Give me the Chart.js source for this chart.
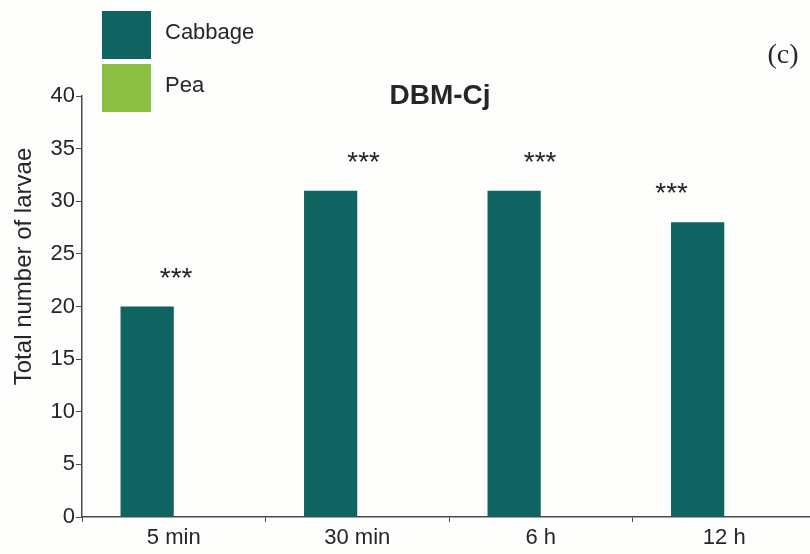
<!DOCTYPE html>
<html>
<head>
<meta charset="utf-8">
<script src="https://cdn.jsdelivr.net/npm/chart.js@4"></script>
<style>
  html, body { margin: 0; padding: 0; background: #fdfdfc; overflow: hidden; }
  #wrap { width: 816px; height: 554px; }
</style>
</head>
<body>
<div id="wrap"><canvas id="chart" width="816" height="554"></canvas></div>
<script>
// data
const categories = ['5 min', '30 min', '6 h', '12 h'];
const cabbage = [20, 31, 31, 28];
const pea = [0, 0, 0, 0];
const marks = ['***', '***', '***', '***'];
const yTicks = [0, 5, 10, 15, 20, 25, 30, 35, 40];

const FONT = '"Liberation Sans", Arial, sans-serif';
const INK = '#262626';
const AXIS = '#4a4a4a';

// legend, title, axis title, panel letter and significance stars
const extras = {
    id: 'extras',
    afterDatasetsDraw(chart) {
        const ctx = chart.ctx;
        const meta = chart.getDatasetMeta(0);
        const y = chart.scales.y;
        const area = chart.chartArea;
        ctx.save();

        // stars above bars (they sit a little off the bar centre in the original)
        ctx.fillStyle = INK;
        ctx.font = '28px ' + FONT;
        ctx.textAlign = 'center';
        ctx.textBaseline = 'alphabetic';
        const shift = [29, 33, 26, -26];
        meta.data.forEach((bar, i) => {
            const top = y.getPixelForValue(cabbage[i]);
            ctx.fillText(marks[i], bar.x + shift[i], top - 20);
        });

        // title
        ctx.textBaseline = 'middle';
        ctx.font = 'bold 28px ' + FONT;
        ctx.fillText('DBM-Cj', 440, 96);

        // (c)
        ctx.font = '28px "Liberation Serif", "Times New Roman", serif';
        ctx.fillText('(c)', 783, 56);

        // y axis title
        ctx.save();
        ctx.translate(24, (area.top + area.bottom) / 2 - 40);
        ctx.rotate(-Math.PI / 2);
        ctx.font = '24px ' + FONT;
        ctx.fillText('Total number of larvae', 0, 0);
        ctx.restore();

        // legend boxes
        ctx.textAlign = 'left';
        ctx.font = '22px ' + FONT;
        chart.data.datasets.forEach((ds, i) => {
            const top = 11 + i * 53;
            ctx.fillStyle = ds.backgroundColor;
            ctx.fillRect(102, top, 49, 48);
            ctx.fillStyle = INK;
            ctx.fillText(ds.label, 165, top + 22);
        });
        ctx.restore();
    }
};

new Chart(document.getElementById('chart'), {
    type: 'bar',
    data: {
        labels: categories,
        datasets: [
            { label: 'Cabbage', data: cabbage, backgroundColor: '#0f6461' },
            { label: 'Pea', data: pea, backgroundColor: '#8abf41' }
        ]
    },
    options: {
        responsive: false,
        animation: false,
        devicePixelRatio: 1,
        layout: { padding: { top: 96, left: 0, right: 0, bottom: 0 } },
        datasets: { bar: { categoryPercentage: 0.58, barPercentage: 1 } },
        plugins: { legend: { display: false }, tooltip: { enabled: false } },
        scales: {
            x: {
                grid: { drawOnChartArea: false, tickLength: 5, color: AXIS, offset: true },
                border: { color: AXIS, width: 1.5 },
                ticks: { color: INK, font: { size: 22, family: FONT }, padding: 3 },
                afterFit(scale) { scale.height = 37; }
            },
            y: {
                min: 0,
                max: 40,
                afterBuildTicks(scale) { scale.ticks = yTicks.map(v => ({ value: v })); },
                grid: { drawOnChartArea: false, tickLength: 6, color: AXIS },
                border: { color: AXIS, width: 1.5 },
                ticks: { color: INK, font: { size: 22, family: FONT }, padding: 1 },
                afterFit(scale) { scale.width = 82; }
            }
        }
    },
    plugins: [extras]
});
</script>
</body>
</html>
